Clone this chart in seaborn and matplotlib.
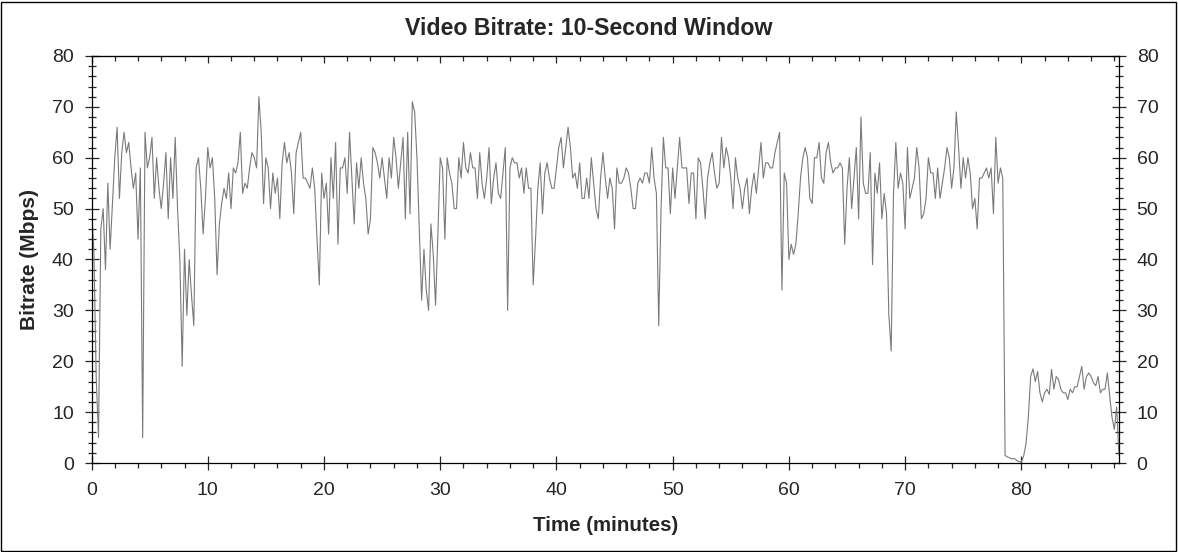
import numpy as np
import pandas as pd
import seaborn as sns
import matplotlib.pyplot as plt
from matplotlib.patches import Rectangle
from matplotlib.ticker import MultipleLocator

# bitrate samples (Mbps), one every 0.2 minutes, grouped in 10-minute blocks
block_00 = [50, 42, 17, 5, 46, 50, 38, 55, 42, 51,
            60, 66, 52, 61, 65, 61, 63, 58, 54, 57,
            44, 58, 5, 65, 58, 60, 64, 52, 60, 54,
            50, 55, 61, 48, 60, 52, 64, 50, 40, 19,
            42, 29, 40, 33, 27, 58, 60, 54, 45, 52]
block_10 = [62, 58, 60, 52, 37, 47, 51, 54, 52, 57,
            50, 58, 57, 59, 65, 53, 55, 54, 58, 61,
            60, 58, 72, 65, 51, 60, 58, 50, 57, 53,
            56, 48, 59, 63, 59, 61, 57, 49, 61, 63,
            65, 56, 56, 55, 54, 58, 54, 44, 35, 57]
block_20 = [52, 55, 45, 60, 52, 63, 43, 58, 58, 60,
            53, 65, 56, 47, 59, 54, 60, 55, 52, 45,
            48, 62, 61, 59, 56, 60, 56, 52, 60, 56,
            64, 60, 54, 59, 64, 48, 65, 49, 71, 69,
            60, 46, 32, 42, 34, 30, 47, 41, 31, 45]
block_30 = [60, 58, 44, 60, 57, 55, 50, 50, 60, 56,
            63, 58, 57, 61, 58, 58, 52, 61, 55, 52,
            56, 62, 51, 56, 59, 53, 52, 57, 62, 30,
            58, 60, 59, 59, 56, 58, 53, 58, 54, 54,
            35, 44, 54, 59, 49, 57, 59, 56, 54, 54]
block_40 = [58, 62, 64, 58, 62, 66, 62, 56, 57, 54,
            59, 52, 52, 56, 52, 60, 55, 50, 48, 56,
            61, 56, 52, 56, 54, 46, 58, 55, 55, 56,
            58, 57, 54, 50, 50, 55, 56, 55, 57, 57,
            55, 62, 56, 53, 27, 50, 64, 58, 58, 49]
block_50 = [58, 52, 58, 64, 58, 58, 58, 51, 57, 57,
            48, 60, 59, 54, 48, 56, 59, 61, 57, 54,
            55, 64, 58, 62, 60, 56, 50, 60, 56, 54,
            50, 54, 56, 49, 54, 57, 53, 58, 63, 56,
            59, 59, 58, 58, 61, 63, 65, 34, 57, 55]
block_60 = [40, 43, 41, 43, 49, 56, 60, 62, 60, 52,
            51, 60, 60, 63, 56, 55, 61, 63, 59, 57,
            58, 58, 59, 58, 43, 54, 60, 50, 56, 62,
            48, 68, 55, 53, 53, 61, 39, 57, 53, 59,
            48, 53, 49, 29, 22, 53, 63, 54, 57, 55]
block_70 = [46, 62, 52, 54, 56, 62, 58, 48, 49, 52,
            60, 57, 57, 52, 58, 52, 55, 58, 62, 60,
            54, 58, 69, 62, 54, 60, 56, 60, 57, 50,
            52, 46, 56, 56, 57, 58, 56, 58, 49, 64,
            55, 58, 56, 1.5, 1.2, 1.0, 0.8, 0.9, 0.5, 0.3]
block_80 = [0.2, 1.4, 3.8, 9, 17, 18.5, 16, 18, 13.8, 12,
            13.8, 14.5, 13.5, 18.4, 14.5, 17, 16.4, 14.5, 13.8, 13.8,
            12.5, 14.5, 13.8, 15, 15, 17, 19, 14.5, 17, 17.7,
            17, 15.8, 15.2, 17, 13.8, 14.5, 14.5, 17.7, 13.2, 9,
            6.6, 11, 1.5]

sample_step_min = 0.2
bitrate = (block_00 + block_10 + block_20 + block_30 + block_40
           + block_50 + block_60 + block_70 + block_80)
minutes = np.arange(len(bitrate)) * sample_step_min

df = pd.DataFrame({'minutes': minutes, 'bitrate': bitrate})

sns.set_style('white')
plt.rcParams['font.family'] = ['Liberation Sans', 'DejaVu Sans']

fig = plt.figure(figsize=(11.78, 5.52), dpi=100)
ax = fig.add_axes([0.0777, 0.1612, 0.8722, 0.7374])

sns.lineplot(data=df, x='minutes', y='bitrate', color='#7a7a7a',
             linewidth=0.8, ax=ax)

ax.set_xlim(0, 88.4)
ax.set_ylim(0, 80)
ax.xaxis.set_major_locator(MultipleLocator(10))
ax.xaxis.set_minor_locator(MultipleLocator(2))
ax.yaxis.set_major_locator(MultipleLocator(10))
ax.yaxis.set_minor_locator(MultipleLocator(2))

for s in ax.spines.values():
    s.set_color('black')
    s.set_linewidth(0.9)

ax.tick_params(axis='y', which='major', direction='inout', length=9.5,
               width=0.9, left=True, right=True, labelright=True,
               labelsize=14, pad=8)
ax.tick_params(axis='y', which='minor', direction='inout', length=5.5,
               width=0.9, left=True, right=True)
ax.tick_params(axis='x', which='major', direction='inout', length=10,
               width=0.9, bottom=True, top=False, labelsize=14, pad=9)
ax.tick_params(axis='x', which='minor', direction='out', length=3.6,
               width=0.9, bottom=True, top=False)

top = ax.secondary_xaxis('top')
top.xaxis.set_major_locator(MultipleLocator(10))
top.xaxis.set_minor_locator(MultipleLocator(2))
top.tick_params(which='major', direction='in', length=5, width=0.9, labeltop=False)
top.tick_params(which='minor', direction='in', length=3.4, width=0.9)

ax.set_xlabel('Time (minutes)', fontsize=14.8, fontweight='bold', labelpad=12)
ax.set_ylabel('Bitrate (Mbps)', fontsize=15, fontweight='bold', labelpad=9)
fig.suptitle('Video Bitrate: 10-Second Window', fontsize=16.7,
             fontweight='bold', y=0.949, va='center')

fig.patches.append(Rectangle((0.001, 0.002), 0.997, 0.995, transform=fig.transFigure,
                             fill=False, edgecolor='black', linewidth=1))

fig.savefig('out.png', dpi=100)
